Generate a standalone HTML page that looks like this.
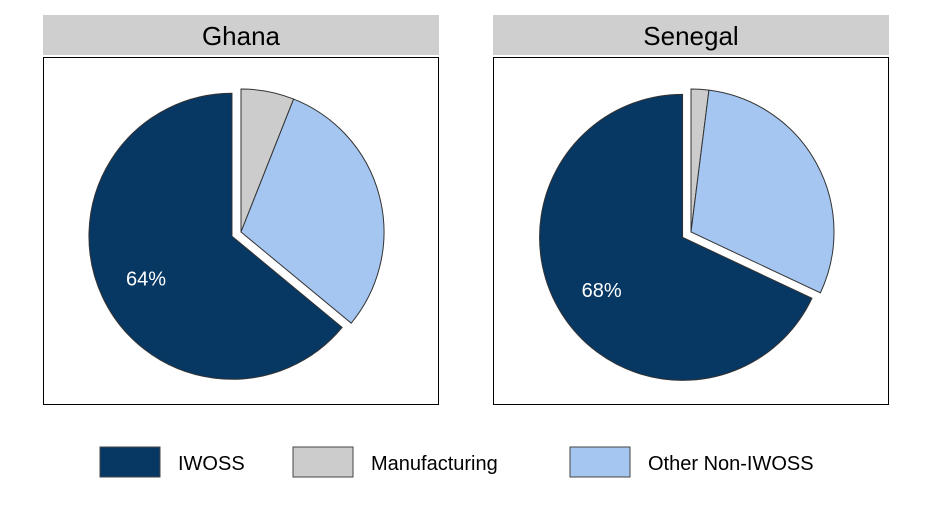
<!DOCTYPE html>
<html><head><meta charset="utf-8"><style>
body{margin:0;background:#fff;font-family:"Liberation Sans",sans-serif;}
</style></head><body>
<svg width="941" height="513" xmlns="http://www.w3.org/2000/svg" id="fig">
<g id="panels"></g>
<g font-family="Liberation Sans, sans-serif" font-size="20" fill="#000">
 <rect x="100" y="447" width="60" height="30" fill="#073763" stroke="#444"/>
 <text x="178" y="470">IWOSS</text>
 <rect x="293" y="447" width="60" height="30" fill="#cccccc" stroke="#444"/>
 <text x="371" y="470">Manufacturing</text>
 <rect x="570" y="447" width="60" height="30" fill="#a4c6f0" stroke="#444"/>
 <text x="648" y="470">Other Non-IWOSS</text>
</g>
</svg>
<script>
const countries = ["Ghana", "Senegal"];
const categories = ["Manufacturing", "Other Non-IWOSS", "IWOSS"];
const ghanaValues = [6, 30, 64];
const senegalValues = [2, 30, 68];
const labelText = ["64%", "68%"];
const colors = ["#cccccc", "#a4c6f0", "#073763"];
const NS = "http://www.w3.org/2000/svg";
const g = document.getElementById("panels");
function mk(t, a) { const e = document.createElementNS(NS, t); for (const k in a) e.setAttribute(k, a[k]); return e; }
const panelX = [43, 493], R = 143;
[ghanaValues, senegalValues].forEach((vals, p) => {
  const x0 = panelX[p];
  const hdr = mk("rect", {x: x0, y: 15, width: 396, height: 40, fill: "#cfcfcf"});
  
  
  g.appendChild(hdr);
  const tt = mk("text", {x: x0 + 198, y: 45, "text-anchor": "middle", "font-size": "26", fill: "#000"});
  tt.textContent = countries[p];
  
  
  g.appendChild(tt);
  const box = mk("rect", {x: x0 + 0.5, y: 57.5, width: 395, height: 347, fill: "none", stroke: "#000", "stroke-width": 1});
  
  
  g.appendChild(box);
  const cx = x0 + 198, cy = 232;
  const total = vals.reduce((a, b) => a + b, 0);
  let acc = 0;
  vals.forEach((v, i) => {
    const a0 = acc / total * 2 * Math.PI; acc += v;
    const a1 = acc / total * 2 * Math.PI;
    let ox = 0, oy = 0;
    if (i === 2) { const m = (a0 + a1) / 2; ox = Math.sin(m) * 10; oy = -Math.cos(m) * 10; }
    const c = [cx + ox, cy + oy];
    const p0 = [c[0] + R * Math.sin(a0), c[1] - R * Math.cos(a0)];
    const p1 = [c[0] + R * Math.sin(a1), c[1] - R * Math.cos(a1)];
    const large = (a1 - a0) > Math.PI ? 1 : 0;
    const path = mk("path", {d: `M${c[0]},${c[1]} L${p0[0]},${p0[1]} A${R},${R} 0 ${large} 1 ${p1[0]},${p1[1]} Z`, fill: colors[i], stroke: "#333", "stroke-width": 1});
    
    
    g.appendChild(path);
    if (i === 2) {
      const m = (a0 + a1) / 2 + 0.05;
      const lt = mk("text", {x: c[0] + 0.65 * R * Math.sin(m), y: c[1] - 0.65 * R * Math.cos(m) + 14, "text-anchor": "middle", "font-size": "20", fill: "#fff"});
      lt.textContent = labelText[p];
      
      
      g.appendChild(lt);
    }
  });
});
</script>
</body></html>
